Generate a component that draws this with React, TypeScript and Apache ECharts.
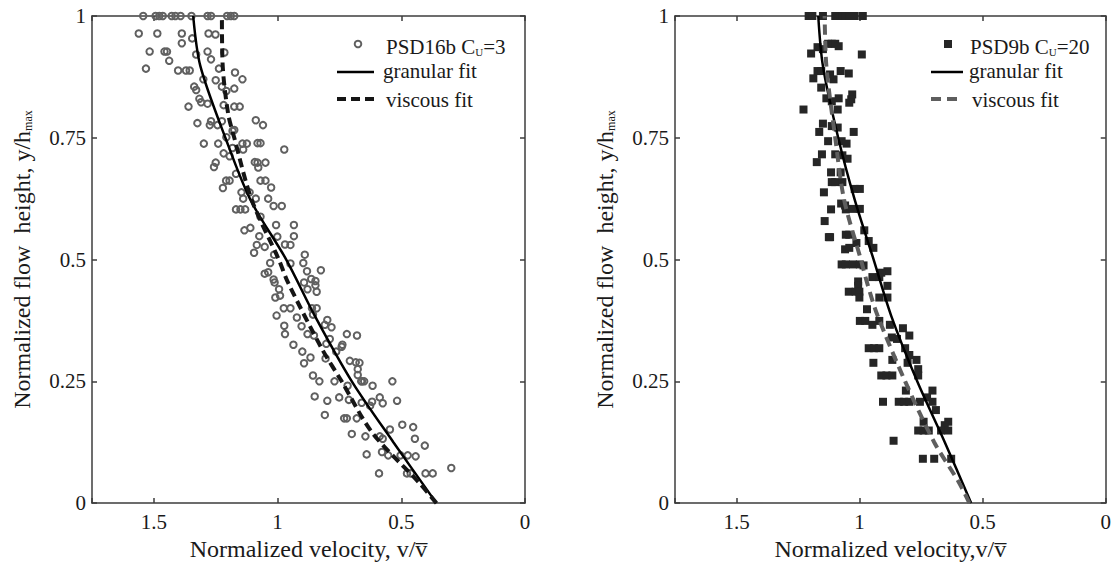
import React, { useEffect, useRef } from "react";
import * as echarts from "echarts";

const FONT = "'Liberation Serif', 'DejaVu Serif', serif";
const TXT = "#1a1a1a";

const xTickLabels: Record<string, string> = { "0": "0", "0.5": "0.5", "1": "1", "1.5": "1.5" };
const yTickLabels: Record<string, string> = { "0": "0", "0.25": "0.25", "0.5": "0.5", "0.75": "0.75", "1": "1" };

// Left panel: PSD16b Cu=3, points [velocity, height]
const leftPoints: number[][] = [
  [1.543, 1], [1.493, 1], [1.478, 1], [1.464, 1], [1.428, 1], [1.413, 1], [1.392, 1], [1.348, 1], [1.283, 1], [1.269, 1], [1.204, 1], [1.189, 1], [1.175, 1],
  [1.561, 0.964], [1.486, 0.964], [1.387, 0.964], [1.279, 0.964], [1.251, 0.962],
  [1.345, 0.954], [1.387, 0.944], [1.517, 0.927], [1.457, 0.927], [1.447, 0.927], [1.283, 0.927], [1.215, 0.925],
  [1.438, 0.908], [1.329, 0.921], [1.269, 0.911], [1.532, 0.892], [1.402, 0.888], [1.37, 0.888], [1.355, 0.888], [1.237, 0.892], [1.172, 0.884],
  [1.3, 0.87], [1.25, 0.868], [1.142, 0.87], [1.337, 0.855], [1.225, 0.855], [1.175, 0.851], [1.329, 0.848], [1.207, 0.846],
  [1.316, 0.83], [1.309, 0.823], [1.283, 0.82], [1.36, 0.814], [1.218, 0.817], [1.175, 0.814], [1.153, 0.814],
  [1.088, 0.786], [1.269, 0.784], [1.225, 0.784], [1.324, 0.78], [1.274, 0.776], [1.243, 0.776], [1.059, 0.776],
  [1.182, 0.764], [1.175, 0.766], [1.207, 0.751], [1.298, 0.738], [1.24, 0.738], [1.142, 0.738], [1.124, 0.738], [1.081, 0.739], [1.069, 0.739],
  [0.973, 0.726], [1.182, 0.729], [1.139, 0.726], [1.218, 0.718], [1.194, 0.712],
  [1.25, 0.699], [1.092, 0.7], [1.081, 0.699], [1.049, 0.699], [1.257, 0.69], [1.078, 0.689], [1.168, 0.676],
  [1.208, 0.662], [1.194, 0.662], [1.069, 0.662], [1.049, 0.662], [1.221, 0.647], [1.026, 0.648], [1.146, 0.638], [1.113, 0.638],
  [1.139, 0.625], [1.088, 0.625], [1.038, 0.625], [1.016, 0.61], [0.983, 0.61], [1.168, 0.603], [1.15, 0.603], [1.131, 0.603],
  [1.069, 0.588], [1.006, 0.571], [0.934, 0.571], [1.134, 0.56], [1.11, 0.565], [1.074, 0.548], [0.934, 0.548], [1.001, 0.547],
  [1.084, 0.53], [0.97, 0.531], [0.948, 0.53], [1.052, 0.526], [1.095, 0.514], [1.014, 0.51], [0.89, 0.51],
  [1.03, 0.493], [0.948, 0.492], [0.896, 0.493], [0.825, 0.478], [0.881, 0.476], [1.052, 0.471], [1.038, 0.474], [0.864, 0.46], [1.016, 0.459], [0.847, 0.456],
  [1.012, 0.453], [0.893, 0.453], [0.847, 0.447], [0.994, 0.439], [0.879, 0.439], [0.842, 0.434], [1.009, 0.422], [0.99, 0.426],
  [0.975, 0.4], [0.948, 0.4], [0.861, 0.4], [0.842, 0.4], [1.004, 0.385], [0.922, 0.381], [0.857, 0.387], [0.799, 0.376],
  [0.809, 0.366], [0.782, 0.361], [0.973, 0.364], [0.903, 0.363], [0.97, 0.347], [0.879, 0.347], [0.72, 0.347], [0.679, 0.344], [0.853, 0.344],
  [0.789, 0.337], [0.803, 0.327], [0.936, 0.325], [0.738, 0.325], [0.741, 0.321], [0.9, 0.311], [0.763, 0.311], [0.867, 0.299], [0.806, 0.297],
  [0.708, 0.292], [0.684, 0.289], [0.669, 0.288], [0.893, 0.287], [0.676, 0.275], [0.857, 0.262], [0.676, 0.263], [0.659, 0.25],
  [0.831, 0.25], [0.77, 0.25], [0.662, 0.25], [0.65, 0.25], [0.536, 0.25], [0.717, 0.241], [0.616, 0.241],
  [0.85, 0.219], [0.751, 0.217], [0.712, 0.212], [0.799, 0.21], [0.587, 0.217], [0.517, 0.21], [0.618, 0.208], [0.575, 0.205], [0.66, 0.206], [0.626, 0.2],
  [0.809, 0.181], [0.731, 0.174], [0.72, 0.174], [0.68, 0.174], [0.496, 0.161], [0.452, 0.156], [0.546, 0.151],
  [0.7, 0.142], [0.645, 0.137], [0.587, 0.137], [0.575, 0.132], [0.445, 0.132], [0.405, 0.118],
  [0.578, 0.105], [0.553, 0.098], [0.64, 0.1], [0.503, 0.098], [0.474, 0.098], [0.442, 0.096],
  [0.298, 0.072], [0.59, 0.061], [0.477, 0.061], [0.462, 0.061], [0.402, 0.061], [0.373, 0.061],
];

const leftGranularY = [0, 0.125, 0.25, 0.385, 0.5, 0.623, 0.75, 0.897, 1];
const leftGranularV = [0.358, 0.532, 0.7, 0.85, 0.965, 1.11, 1.211, 1.312, 1.341];
const leftViscousY = [0, 0.043, 0.145, 0.25, 0.316, 0.453, 0.5, 0.623, 0.75, 0.8, 0.9, 1];
const leftViscousV = [0.358, 0.43, 0.618, 0.741, 0.82, 0.958, 0.995, 1.105, 1.175, 1.2, 1.222, 1.225];

// Right panel: PSD9b Cu=20
const rightPoints: number[][] = [
  [1.207, 1], [1.192, 1], [1.149, 1], [1.099, 1], [1.085, 1], [1.07, 1], [1.056, 1], [1.042, 1], [1.02, 1], [0.987, 1],
  [1.128, 0.943], [1.113, 0.943], [1.099, 0.943], [1.085, 0.938], [1.171, 0.936], [1.149, 0.932], [1.197, 0.923], [0.991, 0.921],
  [1.171, 0.887], [1.156, 0.887], [1.077, 0.887], [1.12, 0.88], [1.044, 0.882], [1.188, 0.872], [1.106, 0.87], [1.156, 0.853],
  [1.03, 0.839], [1.034, 0.829], [1.135, 0.831], [1.085, 0.831], [1.113, 0.825], [1.042, 0.822], [1.228, 0.808], [1.089, 0.808],
  [1.149, 0.779], [1.113, 0.774], [1.089, 0.771], [1.164, 0.762], [1.024, 0.762], [1.128, 0.743], [1.073, 0.743], [1.053, 0.738],
  [1.153, 0.716], [1.099, 0.716], [1.07, 0.714], [1.049, 0.707], [1.174, 0.7], [1.116, 0.679], [1.077, 0.679],
  [1.113, 0.659], [1.099, 0.659], [1.07, 0.659], [1.02, 0.645], [0.999, 0.645], [1.145, 0.638],
  [1.075, 0.615], [1.059, 0.611], [1.116, 0.603], [1.056, 0.603], [1.027, 0.604], [0.999, 0.604],
  [1.142, 0.579], [0.981, 0.56], [1.056, 0.551], [1.042, 0.551], [1.125, 0.546], [1.12, 0.546], [0.963, 0.538], [1.013, 0.534],
  [0.944, 0.524], [1.059, 0.521], [1.042, 0.524], [1.073, 0.49], [1.056, 0.49], [1.027, 0.49], [0.999, 0.49], [0.984, 0.488],
  [0.887, 0.476], [0.912, 0.473], [0.948, 0.464], [0.92, 0.464], [1.006, 0.455],
  [1.006, 0.446], [0.887, 0.446], [1.044, 0.434], [1.016, 0.434], [1.001, 0.434], [1.001, 0.422], [0.92, 0.422], [0.887, 0.422],
  [0.97, 0.398], [0.999, 0.374], [0.977, 0.374], [0.92, 0.374], [0.948, 0.366], [0.877, 0.366], [0.824, 0.359], [0.798, 0.344], [0.869, 0.34], [0.848, 0.337],
  [0.963, 0.318], [0.941, 0.318], [0.92, 0.318], [0.815, 0.318], [0.798, 0.304], [0.769, 0.294], [0.867, 0.294], [0.944, 0.288], [0.805, 0.288], [0.762, 0.275],
  [0.912, 0.262], [0.891, 0.262], [0.867, 0.262], [0.762, 0.262], [0.812, 0.231], [0.704, 0.231], [0.726, 0.217],
  [0.905, 0.208], [0.841, 0.208], [0.819, 0.208], [0.798, 0.208], [0.755, 0.208], [0.704, 0.208], [0.69, 0.191],
  [0.74, 0.167], [0.64, 0.167], [0.654, 0.16], [0.762, 0.149], [0.74, 0.149], [0.719, 0.149], [0.669, 0.149], [0.64, 0.149],
  [0.862, 0.128], [0.743, 0.091], [0.697, 0.091], [0.628, 0.091],
];

const rightGranularY = [0, 0.125, 0.25, 0.385, 0.5, 0.623, 0.75, 0.897, 1];
const rightGranularV = [0.547, 0.654, 0.766, 0.872, 0.943, 1.02, 1.087, 1.149, 1.168];
const rightViscousY = [0, 0.043, 0.125, 0.25, 0.385, 0.453, 0.5, 0.623, 0.75, 0.897, 1];
const rightViscousV = [0.554, 0.597, 0.697, 0.815, 0.927, 0.97, 0.995, 1.063, 1.099, 1.135, 1.142];

const pairs = (v: number[], y: number[]) => v.map((x, i) => [x, y[i]]);

const axisLine = { color: "#3c3c3c", width: 1.5 };

function xAxes(gridIndex: number, name: string) {
  const base = {
    type: "value" as const,
    gridIndex,
    min: 0,
    max: 1.75,
    interval: 0.5,
    inverse: true,
    splitLine: { show: false },
    axisLine: { show: true, onZero: false, lineStyle: axisLine },
    axisTick: { show: true, inside: true, length: 5, lineStyle: axisLine },
  };
  return [
    {
      ...base,
      position: "bottom",
      axisLabel: {
        show: true,
        margin: 8,
        fontSize: 21,
        fontFamily: FONT,
        color: TXT,
        formatter: (v: number) => xTickLabels[String(v)] ?? "",
      },
      name,
      nameLocation: "middle",
      nameGap: 31,
      nameTextStyle: { fontFamily: FONT, fontSize: 24, color: TXT },
    },
    { ...base, position: "top", axisLabel: { show: false } },
  ];
}

function yAxes(gridIndex: number) {
  const base = {
    type: "value" as const,
    gridIndex,
    min: 0,
    max: 1,
    interval: 0.25,
    splitLine: { show: false },
    axisLine: { show: true, onZero: false, lineStyle: axisLine },
    axisTick: { show: true, inside: true, length: 5, lineStyle: axisLine },
  };
  return [
    {
      ...base,
      position: "left",
      axisLabel: {
        show: true,
        margin: 6,
        fontSize: 21,
        fontFamily: FONT,
        color: TXT,
        formatter: (v: number) => yTickLabels[String(v)] ?? "",
      },
      name: "{a|Normalized flow\u00a0 height, y/h}{b|max}",
      nameLocation: "middle",
      nameGap: 58,
      nameRotate: 90,
      nameTextStyle: {
        fontFamily: FONT,
        fontSize: 24,
        color: TXT,
        rich: {
          a: { fontFamily: FONT, fontSize: 24, color: TXT },
          b: { fontFamily: FONT, fontSize: 12, color: TXT, verticalAlign: "bottom" },
        },
      },
    },
    { ...base, position: "right", axisLabel: { show: false } },
  ];
}

function legendText(x: number, y: number, main: string, sub?: string, tail?: string) {
  const txt = sub ? `{a|${main}}{b|${sub}}{a|${tail ?? ""}}` : `{a|${main}}`;
  return {
    type: "text",
    x,
    y,
    style: {
      text: txt,
      verticalAlign: "middle",
      align: "left",
      fill: TXT,
      rich: {
        a: { fontFamily: FONT, fontSize: 21, fill: TXT },
        b: { fontFamily: FONT, fontSize: 11, fill: TXT, verticalAlign: "bottom" },
      },
    },
    z: 100,
  };
}

export default function App() {
  const ref = useRef<HTMLDivElement>(null);
  useEffect(() => {
    document.body.style.margin = "0";
    if (!ref.current) return;
    const chart = echarts.init(ref.current, undefined, { renderer: "svg" });
    const option: any = {
      animation: false,
      backgroundColor: "#ffffff",
      grid: [
        { left: 92, top: 16, width: 433, height: 488 },
        { left: 675, top: 16, width: 433, height: 488 },
      ],
      xAxis: [...xAxes(0, "Normalized velocity, v/v\u0305"), ...xAxes(1, "Normalized velocity,v/v\u0305")],
      yAxis: [...yAxes(0), ...yAxes(1)],
      series: [
        {
          name: "PSD16b Cu=3",
          type: "scatter",
          xAxisIndex: 0,
          yAxisIndex: 0,
          data: leftPoints,
          symbol: "circle",
          symbolSize: 6.5,
          itemStyle: { color: "rgba(0,0,0,0)", borderColor: "#606060", borderWidth: 2, opacity: 1 },
        },
        {
          name: "granular fit",
          type: "line",
          xAxisIndex: 0,
          yAxisIndex: 0,
          data: pairs(leftGranularV, leftGranularY),
          smooth: 0.3,
          showSymbol: false,
          symbol: "none",
          lineStyle: { color: "#000000", width: 2.5 },
        },
        {
          name: "viscous fit",
          type: "line",
          xAxisIndex: 0,
          yAxisIndex: 0,
          data: pairs(leftViscousV, leftViscousY),
          smooth: 0.3,
          showSymbol: false,
          symbol: "none",
          lineStyle: { color: "#151515", width: 4, type: [9, 5] },
        },
        {
          name: "PSD9b Cu=20",
          type: "scatter",
          xAxisIndex: 2,
          yAxisIndex: 2,
          data: rightPoints,
          symbol: "rect",
          symbolSize: 8,
          itemStyle: { color: "#262626", opacity: 1 },
        },
        {
          name: "granular fit ",
          type: "line",
          xAxisIndex: 2,
          yAxisIndex: 2,
          data: pairs(rightGranularV, rightGranularY),
          smooth: 0.3,
          showSymbol: false,
          symbol: "none",
          lineStyle: { color: "#000000", width: 2.5 },
        },
        {
          name: "viscous fit ",
          type: "line",
          xAxisIndex: 2,
          yAxisIndex: 2,
          data: pairs(rightViscousV, rightViscousY),
          smooth: 0.3,
          showSymbol: false,
          symbol: "none",
          lineStyle: { color: "#5e5e5e", width: 4, type: [10, 6] },
        },
      ],
      graphic: [
        { type: "circle", shape: { cx: 358, cy: 44, r: 3.3 }, style: { fill: "rgba(0,0,0,0)", stroke: "#606060", lineWidth: 2 }, z: 100 },
        legendText(386, 47, "PSD16b C", "U", "=3"),
        { type: "line", shape: { x1: 337, y1: 72, x2: 374, y2: 72 }, style: { stroke: "#000000", lineWidth: 2.5 }, z: 100 },
        legendText(383, 71, "granular fit"),
        { type: "line", shape: { x1: 337, y1: 99, x2: 374, y2: 99 }, style: { stroke: "#151515", lineWidth: 4, lineDash: [9, 5] }, z: 100 },
        legendText(386, 100, "viscous fit"),

        { type: "rect", shape: { x: 944, y: 40, width: 8, height: 8 }, style: { fill: "#262626" }, z: 100 },
        legendText(970, 47, "PSD9b C", "U", "=20"),
        { type: "line", shape: { x1: 931, y1: 72, x2: 963, y2: 72 }, style: { stroke: "#000000", lineWidth: 2.5 }, z: 100 },
        legendText(969, 71, "granular fit"),
        { type: "line", shape: { x1: 931, y1: 99, x2: 963, y2: 99 }, style: { stroke: "#5e5e5e", lineWidth: 4, lineDash: [10, 6] }, z: 100 },
        legendText(972, 100, "viscous fit"),
      ],
    };
    chart.setOption(option);
    return () => chart.dispose();
  }, []);
  return <div ref={ref} style={{ width: 1114, height: 566 }} />;
}
